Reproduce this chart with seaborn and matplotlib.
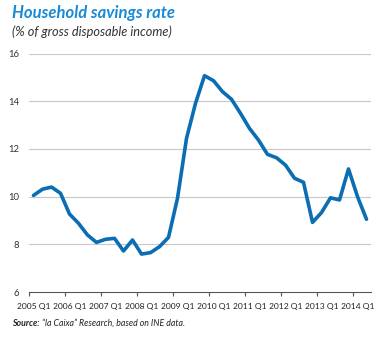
import numpy as np
import pandas as pd
import matplotlib
matplotlib.use("Agg")
import matplotlib.pyplot as plt
import seaborn as sns

years = list(range(2005, 2015))
quarters = [f"{y} Q{q}" for y in years for q in range(1, 5)][:38]
savings_rate = [10.05, 10.31, 10.40, 10.14, 9.27, 8.88, 8.39, 8.08,
                8.21, 8.25, 7.72, 8.18, 7.59, 7.65, 7.90, 8.29,
                9.93, 12.44, 13.91, 15.07, 14.86, 14.40, 14.08, 13.49,
                12.86, 12.37, 11.77, 11.63, 11.32, 10.77, 10.60, 8.92,
                9.33, 9.95, 9.86, 11.16, 10.00, 9.05]
tick_labels = [f"{y} Q1" for y in years]
y_ticks = [6, 8, 10, 12, 14, 16]

title = "Household savings rate"
subtitle = "(% of gross disposable income)"
source_bold = "Source:"
source_rest = " \u201cla Caixa\u201d Research, based on INE data."

sns.set_theme(style="white")
plt.rcParams['font.family'] = ['Lato', 'DejaVu Sans']

df = pd.DataFrame({"pos": np.arange(len(savings_rate)), "quarter": quarters, "rate": savings_rate})

fig = plt.figure(figsize=(3.83, 3.38), dpi=100)
ax = fig.add_axes([29/383, 1 - 292/338, (371-29)/383, (292-53.5)/338])

for yv in y_ticks[1:]:
    ax.axhline(yv, color="#c8c8c8", lw=0.8, zorder=0)

sns.lineplot(data=df, x="pos", y="rate", ax=ax, color="#0b6db3", lw=2.6, zorder=3)

ax.set_xlim(-0.5, len(savings_rate) - 0.5)
ax.set_ylim(6, 16)
ax.set_yticks(y_ticks)
ax.set_yticklabels([str(v) for v in y_ticks], fontsize=6.8, color="#333333")
ax.set_xticks([4 * k for k in range(len(tick_labels))])
ax.set_xticklabels(tick_labels, fontsize=6.1, color="#222222")
ax.set_xticks([-0.5 + 4 * k for k in range(len(tick_labels))], minor=True)
ax.tick_params(axis="y", length=0, pad=7)
ax.tick_params(axis="x", which="major", length=0, pad=8)
ax.tick_params(axis="x", which="minor", length=3, width=0.8, color="#555555", direction="out", bottom=True)
ax.set_xlabel("")
ax.set_ylabel("")
for s in ["top", "right", "left"]:
    ax.spines[s].set_visible(False)
ax.spines["bottom"].set_color("#555555")
ax.spines["bottom"].set_linewidth(0.8)

fig.text(12/383, 1 - 13/338, title, fontsize=12, fontweight="bold", fontstyle="italic",
         color="#1a8ad4", va="center", ha="left")
fig.text(12/383, 1 - 32/338, subtitle, fontsize=9.2, fontstyle="italic",
         color="#333333", va="center", ha="left")
t = fig.text(12/383, 1 - 323/338, source_bold, fontsize=6.3, fontweight="bold", fontstyle="italic",
             color="#222222", va="center", ha="left")
fig.canvas.draw()
bb = t.get_window_extent()
fig.text(bb.x1 / fig.bbox.width, 1 - 323/338, source_rest, fontsize=6.3, fontstyle="italic",
         color="#222222", va="center", ha="left")

fig.savefig("out.png", dpi=100)
